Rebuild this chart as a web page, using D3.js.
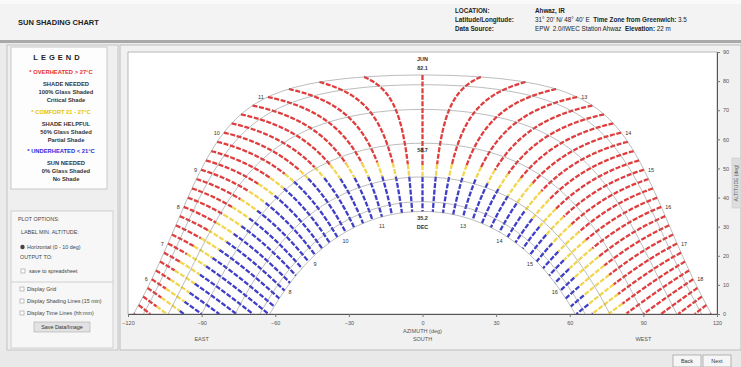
<!DOCTYPE html>
<html>
<head>
<meta charset="utf-8">
<script src="https://cdn.jsdelivr.net/npm/d3@7"></script>
<style>
  html, body { margin: 0; padding: 0; background: #ebebeb; }
  svg { display: block; font-family: "Liberation Sans", Arial, sans-serif; }
</style>
</head>
<body>
<svg id="chart" width="741" height="367"></svg>
<script>
// ---- site and chart data ----
const latitude = 31.33;            // 31° 20' N
const solsticeDecl = 23.45;

// time lines, solar hours, one every 15 minutes
const lineTimes = [5.00, 5.25, 5.50, 5.75, 6.00, 6.25, 6.50, 6.75, 7.00, 7.25, 7.50, 7.75,
  8.00, 8.25, 8.50, 8.75, 9.00, 9.25, 9.50, 9.75, 10.00, 10.25, 10.50, 10.75,
  11.00, 11.25, 11.50, 11.75, 12.00, 12.25, 12.50, 12.75, 13.00, 13.25, 13.50, 13.75,
  14.00, 14.25, 14.50, 14.75, 15.00, 15.25, 15.50, 15.75, 16.00, 16.25, 16.50, 16.75,
  17.00, 17.25, 17.50, 17.75, 18.00, 18.25, 18.50, 18.75, 19.00];

// declination where each time line leaves the overheated period (red above)
const hotLimit = [17, 17, 17, 17, 17, 17, 17, 16.5, 15.5, 14.5, 13.5, 12.5,
  11.3, 10.4, 9.5, 8.7, 8, 7.4, 6, 4, 2, 0.5, -1, -2.5,
  -4, -5, -6, -7, -7.5, -7, -6.5, -6, -5.5, -5, -4.5, -4,
  -3.5, -4, -4.8, -5.4, -5.5, -5.3, -5, -4.8, -4.6, -4.4, -4.3, -4.5,
  -4.8, -5.1, -5.4, -5.7, -6, -6, -6, -6, -6];

// declination where each time line enters the underheated period (blue below)
const coolLimit = [8.2, 8.2, 8.2, 8.2, 8.2, 8, 7.8, 7.6, 7, 6.3, 5.5, 4.7,
  4, 3.2, 2.5, 2, 1.5, 1, 0.7, 0.3, -1.5, -4, -6.5, -8,
  -9, -10, -10.8, -11.3, -11.6, -11.3, -11, -10.5, -10, -10, -10.5, -11.2,
  -12, -12.8, -13.3, -13.8, -14.3, -14.8, -15.2, -15.6, -16, -16.3, -16.6, -16.9,
  -17.2, -17.4, -17.6, -17.8, -18, -18, -18, -18, -18];

// day paths (21st of the month)
const monthDecl = [23.45, 20.1, 11.6, 0, -11.6, -20.1, -23.45];
const noonMarks = [
  { decl: 23.45, tag: "JUN" },
  { decl: 0, tag: "" },
  { decl: -23.45, tag: "DEC" }
];

const summerHourLabels = [6, 7, 8, 9, 10, 11, 13, 14, 15, 16, 17, 18];
const winterHourLabels = [8, 9, 10, 11, 13, 14, 15, 16];

const azimuthTicks = [-120, -90, -60, -30, 0, 30, 60, 90, 120];
const altitudeTicks = [0, 10, 20, 30, 40, 50, 60, 70, 80, 90];

const bandColors = { hot: "#e03e3e", mild: "#f2d550", cool: "#3e3ec8" };

const legendGroups = [
  { head: "* OVERHEATED > 27°C", color: "#e83030", lines: ["SHADE NEEDED", "100% Glass Shaded", "Critical Shade"] },
  { head: "* COMFORT 21 - 27°C", color: "#e5c400", lines: ["SHADE HELPFUL", "50% Glass Shaded", "Partial Shade"] },
  { head: "* UNDERHEATED < 21°C", color: "#2a2ae0", lines: ["SUN NEEDED", "0% Glass Shaded", "No Shade"] }
];

// ---- solar geometry ----
const rad = Math.PI / 180;
function sunAt(decl, hourAngle) {
  const phi = latitude * rad, d = decl * rad, h = hourAngle * rad;
  const sAlt = Math.sin(phi) * Math.sin(d) + Math.cos(phi) * Math.cos(d) * Math.cos(h);
  const alt = Math.asin(sAlt);
  let cAz = (sAlt * Math.sin(phi) - Math.sin(d)) / (Math.cos(alt) * Math.cos(phi));
  cAz = Math.max(-1, Math.min(1, cAz));
  const az = Math.acos(cAz) * (hourAngle < 0 ? -1 : 1);
  return { alt: alt / rad, az: az / rad };
}
function horizonDecl(hourAngle) {
  return Math.atan(-Math.cos(hourAngle * rad) / Math.tan(latitude * rad)) / rad;
}
function halfDay(decl) {
  return Math.acos(-Math.tan(latitude * rad) * Math.tan(decl * rad)) / rad;
}

// ---- page frame ----
const svg = d3.select("#chart");

// header
svg.append("rect").attr("x", 0).attr("y", 0).attr("width", 741).attr("height", 40).attr("fill", "#f3f3f3");
svg.append("rect").attr("x", 0).attr("y", 0).attr("width", 741).attr("height", 4).attr("fill", "#fafafa");
svg.append("rect").attr("x", 0).attr("y", 40).attr("width", 741).attr("height", 3).attr("fill", "#a9a9a9");
svg.append("text").attr("x", 18).attr("y", 25).attr("font-size", 7.5).attr("font-weight", "bold")
  .attr("fill", "#222").text("SUN SHADING CHART");

const headRows = [
  { label: "LOCATION:", parts: [["Ahwaz, IR", true]] },
  { label: "Latitude/Longitude:", parts: [["31° 20' N/ 48° 40' E", false], ["  Time Zone from Greenwich:", true], [" 3.5", false]] },
  { label: "Data Source:", parts: [["EPW", false], ["  2.0/IWEC Station Ahwaz", false], ["  Elevation:", true], [" 22 m", false]] }
];
headRows.forEach((r, i) => {
  const yy = 13 + i * 9;
  svg.append("text").attr("x", 455).attr("y", yy).attr("font-size", 6.3).attr("font-weight", "bold")
    .attr("fill", "#222").text(r.label);
  const t = svg.append("text").attr("x", 535).attr("y", yy).attr("font-size", 6.3).attr("fill", "#222")
    .attr("xml:space", "preserve");
  r.parts.forEach(p => t.append("tspan").attr("font-weight", p[1] ? "bold" : "normal").text(p[0]));
});

// left panel
svg.append("rect").attr("x", 7).attr("y", 45).attr("width", 111).attr("height", 305)
  .attr("fill", "#efefef").attr("stroke", "#c4c4c4");
svg.append("rect").attr("x", 11).attr("y", 47).attr("width", 96).attr("height", 142)
  .attr("fill", "#fdfdfd").attr("stroke", "#c8c8c8");
svg.append("text").attr("x", 58).attr("y", 60).attr("text-anchor", "middle").attr("font-size", 7.5)
  .attr("font-weight", "bold").attr("letter-spacing", 3).attr("fill", "#222").text("LEGEND");
legendGroups.forEach((g, i) => {
  const y0 = 74 + i * 39.5;
  svg.append("text").attr("x", 61).attr("y", y0).attr("text-anchor", "middle").attr("font-size", 5.8)
    .attr("font-weight", "bold").attr("fill", g.color).text(g.head);
  g.lines.forEach((l, k) => {
    svg.append("text").attr("x", 66).attr("y", y0 + 12 + k * 8.2).attr("text-anchor", "middle")
      .attr("font-size", 5.8).attr("font-weight", "bold").attr("fill", "#333").text(l);
  });
});

// plot options box
svg.append("rect").attr("x", 11).attr("y", 211).attr("width", 102).attr("height", 137)
  .attr("fill", "#f7f7f7").attr("stroke", "#d0d0d0");
svg.append("line").attr("x1", 11).attr("x2", 113).attr("y1", 282).attr("y2", 282).attr("stroke", "#d0d0d0");
const opt = (x, y, s) => svg.append("text").attr("x", x).attr("y", y).attr("font-size", 5.4)
  .attr("fill", "#444").text(s);
opt(18, 221, "PLOT OPTIONS:");
opt(21, 234, "LABEL MIN. ALTITUDE:");
svg.append("circle").attr("cx", 22.5).attr("cy", 247).attr("r", 2.2).attr("fill", "#444");
opt(27, 249, "Horizontal (0 - 10 deg)");
opt(20, 259, "OUTPUT TO:");
svg.append("rect").attr("x", 21).attr("y", 269).attr("width", 4).attr("height", 4).attr("fill", "#fff").attr("stroke", "#999").attr("stroke-width", 0.6);
opt(29, 273, "save to spreadsheet");
[["Display Grid", 291], ["Display Shading Lines (15 min)", 303], ["Display Time Lines (hh:mm)", 315]].forEach(d => {
  svg.append("rect").attr("x", 20).attr("y", d[1] - 4).attr("width", 4).attr("height", 4).attr("fill", "#fff").attr("stroke", "#999").attr("stroke-width", 0.6);
  opt(27, d[1], d[0]);
});
svg.append("rect").attr("x", 34).attr("y", 322).attr("width", 56).attr("height", 10)
  .attr("fill", "#e2e2e2").attr("stroke", "#aaa").attr("stroke-width", 0.6);
svg.append("text").attr("x", 62).attr("y", 329).attr("text-anchor", "middle").attr("font-size", 5.4)
  .attr("fill", "#333").text("Save Data/Image");

// chart panel
svg.append("rect").attr("x", 120).attr("y", 45).attr("width", 621).attr("height", 305)
  .attr("fill", "#f1f1f1").attr("stroke", "#bdbdbd");

// bottom bar with buttons
svg.append("rect").attr("x", 0).attr("y", 351).attr("width", 741).attr("height", 16).attr("fill", "#e9e9e9");
[["Back", 673], ["Next", 703]].forEach(b => {
  svg.append("rect").attr("x", b[1]).attr("y", 355).attr("width", 28).attr("height", 12)
    .attr("fill", "#f6f6f6").attr("stroke", "#9a9a9a").attr("stroke-width", 0.7);
  svg.append("text").attr("x", b[1] + 14).attr("y", 363).attr("text-anchor", "middle")
    .attr("font-size", 5.5).attr("fill", "#333").text(b[0]);
});

// ---- plot ----
const x = d3.scaleLinear().domain([-120, 120]).range([128, 717]);
const y = d3.scaleLinear().domain([0, 90]).range([314, 52]);

svg.append("rect").attr("x", x(-120)).attr("y", y(90)).attr("width", x(120) - x(-120))
  .attr("height", y(0) - y(90)).attr("fill", "#ffffff").attr("stroke", "#a8a8a8").attr("stroke-width", 0.8);

const plot = svg.append("g");
const line = d3.line().x(p => x(p.az)).y(p => y(p.alt));

// colored time lines, one per 15 minutes, split by comfort period
lineTimes.forEach((t, i) => {
  const H = (t - 12) * 15;
  const dMin = Math.max(-solsticeDecl, horizonDecl(H));
  if (dMin >= solsticeDecl) return;
  const bands = [
    { lo: -solsticeDecl, hi: coolLimit[i], color: bandColors.cool },
    { lo: coolLimit[i], hi: hotLimit[i], color: bandColors.mild },
    { lo: hotLimit[i], hi: solsticeDecl, color: bandColors.hot }
  ];
  bands.forEach(b => {
    const hi = Math.min(b.hi, solsticeDecl), lo = Math.max(b.lo, dMin);
    if (hi <= lo) return;
    const n = Math.max(2, Math.ceil((hi - lo) / 0.2));
    const pts = d3.range(n + 1).map(k => sunAt(hi - (hi - lo) * k / n, H));
    plot.append("path").attr("d", line(pts)).attr("fill", "none")
      .attr("stroke", b.color).attr("stroke-width", 2.3)
      .attr("stroke-dasharray", "5,1.6");
  });
});

// day paths
monthDecl.forEach(dcl => {
  const h0 = halfDay(dcl);
  const n = 120;
  const pts = d3.range(n + 1).map(k => sunAt(dcl, -h0 + 2 * h0 * k / n));
  plot.append("path").attr("d", line(pts)).attr("fill", "none")
    .attr("stroke", "#7a7a7a").attr("stroke-width", 0.6).attr("opacity", 0.85);
});

// hour labels on the summer and winter paths
summerHourLabels.forEach(hr => {
  const p = sunAt(solsticeDecl, (hr - 12) * 15);
  const am = hr < 12;
  plot.append("text").attr("x", x(p.az) + (am ? -4 : 4)).attr("y", y(p.alt) + 2)
    .attr("text-anchor", am ? "end" : "start").attr("font-size", 5.5).attr("fill", "#333").text(hr);
});
winterHourLabels.forEach(hr => {
  const p = sunAt(-solsticeDecl, (hr - 12) * 15);
  plot.append("text").attr("x", x(p.az)).attr("y", y(p.alt) + 11)
    .attr("text-anchor", "middle").attr("font-size", 5.5).attr("fill", "#333").text(hr);
});

// noon altitude labels
const noonText = (yy, s) => plot.append("text").attr("x", x(0)).attr("y", yy).attr("text-anchor", "middle")
  .attr("font-size", 5.5).attr("font-weight", "bold").attr("fill", "#333").text(s);
noonMarks.forEach(m => {
  const alt = 90 - latitude + m.decl;
  const val = alt.toFixed(1);
  if (m.decl > 0) {
    noonText(y(alt) - 14, m.tag);
    noonText(y(alt) - 5, val);
  } else if (m.decl === 0) {
    noonText(y(alt) + 9, val);
  } else {
    noonText(y(alt) + 9, val);
    noonText(y(alt) + 18, m.tag);
  }
});

// axes
const xAxis = svg.append("g").attr("transform", `translate(0,${y(0)})`)
  .call(d3.axisBottom(x).tickValues(azimuthTicks).tickSize(3).tickFormat(d3.format("d")));
const yAxis = svg.append("g").attr("transform", `translate(${x(120)},0)`)
  .call(d3.axisRight(y).tickValues(altitudeTicks).tickSize(3).tickFormat(d3.format("d")));
[xAxis, yAxis].forEach(a => {
  a.select(".domain").attr("stroke", "#555");
  a.selectAll(".tick line").attr("stroke", "#777");
  a.selectAll(".tick text").attr("font-size", 5.5).attr("fill", "#555")
    .attr("font-family", "Liberation Sans, Arial, sans-serif");
});
xAxis.selectAll(".tick text").attr("dy", "0.9em");

// axis titles
const axisText = (xx, yy, s) => svg.append("text").attr("x", xx).attr("y", yy).attr("text-anchor", "middle")
  .attr("font-size", 5.5).attr("fill", "#555").text(s);
axisText(x(0), 333, "AZIMUTH (deg)");
axisText(x(0), 341, "SOUTH");
axisText(x(-90), 341, "EAST");
axisText(x(90), 341, "WEST");

svg.append("rect").attr("x", 732).attr("y", 158).attr("width", 9).attr("height", 50)
  .attr("fill", "#dedede").attr("stroke", "#c4c4c4").attr("stroke-width", 0.5);
svg.append("text").attr("transform", "translate(738,183) rotate(-90)").attr("text-anchor", "middle")
  .attr("font-size", 5).attr("fill", "#555").text("ALTITUDE (deg)");
</script>
</body>
</html>
